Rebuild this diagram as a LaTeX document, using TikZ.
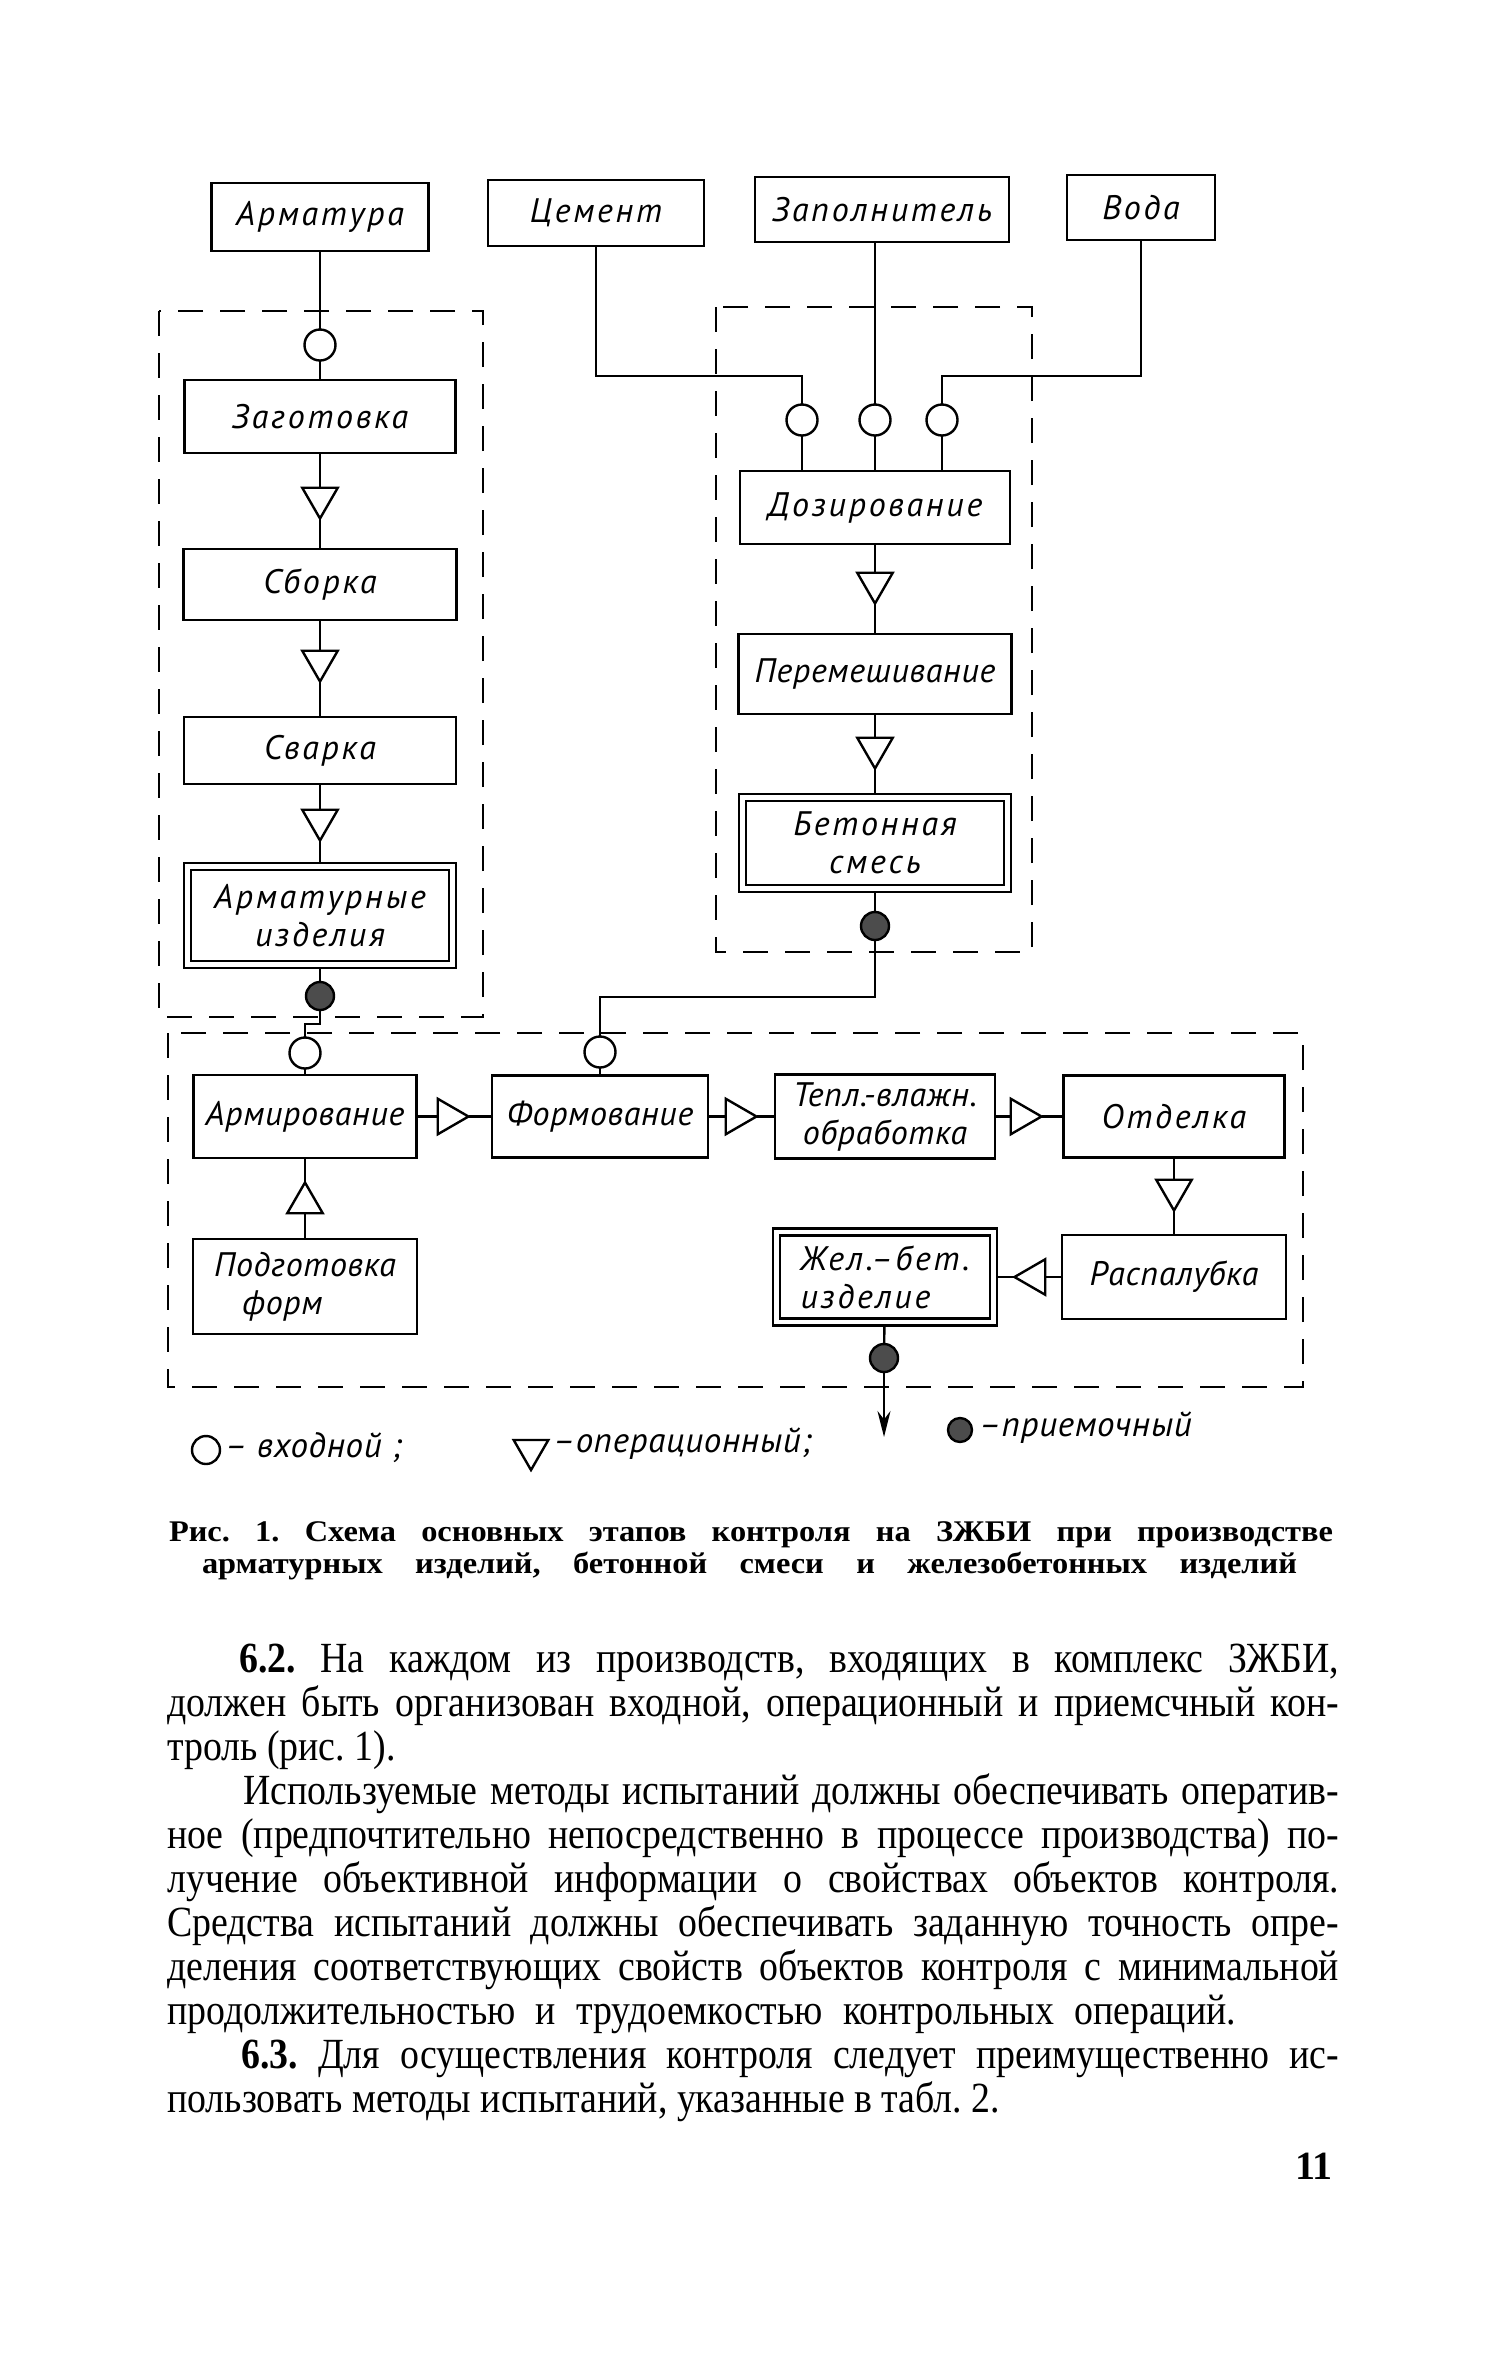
\documentclass[tikz,border=0pt]{standalone}
\usepackage{fontspec}
\setmainfont{Liberation Serif}
\newfontfamily\bodyfont{Liberation Serif}[FakeStretch=0.88]
\newfontfamily\capfont{Liberation Serif}[FakeStretch=1.08]
\newfontfamily\gostfont{PT Sans}[LetterSpace=8]
\newfontfamily\gostnarrow{PT Sans}[LetterSpace=2]
\usetikzlibrary{shapes.geometric,arrows.meta}
\newcommand{\jline}[2]{\hbox to #1pt{#2}}
\frenchspacing
\tikzset{
  box/.style={draw, rectangle, inner sep=0pt, outer sep=0pt, align=center,
    font=\gostfont\itshape\fontsize{34}{38}\selectfont},
  nbox/.style={box, font=\gostnarrow\itshape\fontsize{34}{38}\selectfont},
  dbox/.style={box, double, double distance=4.6pt, outer sep=4.7pt},
  wh/.style 2 args={minimum width=#1pt, minimum height=#2pt},
  incirc/.style={draw, circle, minimum size=31pt, inner sep=0pt, outer sep=0pt, fill=white},
  acc/.style={draw, circle, minimum size=28pt, inner sep=0pt, outer sep=0pt, fill=black!70},
  tri/.style={draw, regular polygon, regular polygon sides=3, minimum size=41pt,
    inner sep=0pt, outer sep=0pt, fill=white, shape border rotate=#1},
  frame/.style={dash pattern=on 25pt off 17pt, line width=2.4pt},
  legtext/.style={anchor=west, inner sep=0pt, font=\gostnarrow\itshape\fontsize{35}{38}\selectfont},
  bodyline/.style={anchor=base west, inner sep=0pt, font=\bodyfont\fontsize{43}{44}\selectfont},
  capline/.style={anchor=base, inner sep=0pt, font=\capfont\bfseries\fontsize{30}{32}\selectfont},
}
\begin{document}
\begin{tikzpicture}[x=1pt,y=-1pt,line width=2.4pt]
\fill[white] (0,0) rectangle (1499,2362);
\useasboundingbox (0,0) rectangle (1499,2362);

% dashed frames
\draw[frame] (159,311) rectangle (483,1017);
\draw[frame] (716,307) rectangle (1032,952);
\draw[frame] (168,1033) rectangle (1303,1387);

% top inputs
\node[box, wh={217}{68}] (arm) at (320,217) {Арматура};
\node[box, wh={216}{66}] (cem) at (596,213) {Цемент};
\node[box, wh={254}{65}] (zap) at (882,209.5) {Заполнитель};
\node[box, wh={148}{65}] (voda) at (1141,207.5) {Вода};

% left column
\node[incirc] (inArm) at (320,345) {};
\node[box, wh={271}{73}] (zag) at (320,416.5) {Заготовка};
\node[tri=180] (t1) at (320,498) {};
\node[box, wh={273}{71}] (sbor) at (320,584.5) {Сборка};
\node[tri=180] (t2) at (320,661) {};
\node[box, wh={272}{67}] (svar) at (320,750.5) {Сварка};
\node[tri=180] (t3) at (320,820) {};
\node[dbox, wh={265}{98}] (armiz) at (320,915.5) {Арматурные\\изделия};
\node[acc] (acc1) at (320,996) {};

% right column
\node[incirc] (inC) at (802,420) {};
\node[incirc] (inZ) at (875,420) {};
\node[incirc] (inV) at (942,420) {};
\node[box, wh={270}{73}] (doz) at (875,507.5) {Дозирование};
\node[tri=180] (t4) at (875,583) {};
\node[nbox, wh={273}{80}] (per) at (875,674) {Перемешивание};
\node[tri=180] (t5) at (875,748) {};
\node[dbox, wh={265}{91}] (bet) at (875,843) {Бетонная\\смесь};
\node[acc] (acc2) at (875,926) {};

% lower block
\node[incirc] (inArmir) at (305,1053) {};
\node[incirc] (inForm) at (600,1052) {};
\node[nbox, wh={223}{83}] (armir) at (305,1116.5) {Армирование};
\node[tri=270] (t6) at (448,1116.5) {};
\node[nbox, wh={216}{82}] (form) at (600,1116.5) {Формование};
\node[tri=270] (t7) at (736,1116.5) {};
\node[nbox, wh={220}{84}] (tepl) at (885,1116.5) {Тепл.-влажн.\\обработка};
\node[tri=270] (t8) at (1021,1116.5) {};
\node[box, wh={221}{82}] (otd) at (1174,1116.5) {Отделка};
\node[tri=180] (t9) at (1174,1190) {};
\node[nbox, wh={224}{84}] (rasp) at (1174,1277) {Распалубка};
\node[tri=90] (t10) at (1035,1277) {};
\node[dbox, wh={217}{90}, align=left] (zhel) at (885,1277) {Жел.–бет.\\изделие};
\node[tri=0] (t11) at (305,1203) {};
\node[nbox, wh={224}{95}, align=left] (podg) at (305,1286.5) {Подготовка\\\hspace*{28pt}форм};
\node[acc] (acc3) at (884,1358) {};
\coordinate (arrEnd) at (884,1437);

% helper corners
\coordinate (cC) at (802,376);
\coordinate (cV) at (942,376);
\coordinate (cF) at (600,997);
\coordinate (cA) at (305,1024);

% connectors: left column
\draw (arm) -- (inArm);
\draw (inArm) -- (zag);
\draw (zag) -- (t1);
\draw (t1) -- (sbor);
\draw (sbor) -- (t2);
\draw (t2) -- (svar);
\draw (svar) -- (t3);
\draw (t3) -- (armiz);
\draw (armiz) -- (acc1);
\draw (acc1) |- (cA) -- (inArmir);

% connectors: right column
\draw (cem) |- (cC) -- (inC);
\draw (zap.south -| inZ) -- (inZ);
\draw (voda) |- (cV) -- (inV);
\draw (inC) -- (inC |- doz.north);
\draw (inZ) -- (doz);
\draw (inV) -- (inV |- doz.north);
\draw (doz) -- (t4);
\draw (t4) -- (per);
\draw (per) -- (t5);
\draw (t5) -- (bet);
\draw (bet) -- (acc2);
\draw (acc2) |- (cF) -- (inForm);

% connectors: lower block
\draw (inArmir) -- (armir);
\draw (inForm) -- (form);
\draw (armir) -- (t6);
\draw (t6) -- (form);
\draw (form) -- (t7);
\draw (t7) -- (tepl);
\draw (tepl) -- (t8);
\draw (t8) -- (otd);
\draw (otd) -- (t9);
\draw (t9) -- (rasp);
\draw (rasp) -- (t10);
\draw (t10) -- (zhel);
\draw (podg) -- (t11);
\draw (t11) -- (armir);
\draw (zhel) -- (acc3);
\draw[-{Stealth[length=26pt,width=13pt]}] (acc3) -- (arrEnd);

% legend
\node[incirc, minimum size=28pt] (lgIn) at (206,1450) {};
\node[legtext] (lgInT) at (224,1448) {– входной ;};
\node[tri=180, minimum size=40pt] (lgOp) at (531,1450) {};
\node[legtext] (lgOpT) at (552,1444) {–операционный;};
\node[acc, minimum size=24pt] (lgAc) at (960,1430) {};
\node[legtext] (lgAcT) at (978,1428) {–приемочный};

% caption
\node[capline] (cap1) at (751,1541) {\jline{1164}{Рис. 1. Схема основных этапов контроля на ЗЖБИ при производстве}};
\node[capline] (cap2) at (749.5,1573) {\jline{1095}{арматурных изделий, бетонной смеси и железобетонных изделий}};

% body text
\node[bodyline] (b1) at (238,1672) {\jline{1100}{\textbf{6.2.} На каждом из производств, входящих в комплекс ЗЖБИ,}};
\node[bodyline] (b2) at (166,1716) {\jline{1172}{должен быть организован входной, операционный и приемсчный кон-}};
\node[bodyline] (b3) at (166,1760) {троль (рис. 1).};
\node[bodyline] (b4) at (242,1804) {\jline{1096}{Используемые методы испытаний должны обеспечивать оператив-}};
\node[bodyline] (b5) at (166,1848) {\jline{1172}{ное (предпочтительно непосредственно в процессе производства) по-}};
\node[bodyline] (b6) at (166,1892) {\jline{1172}{лучение объективной информации о свойствах объектов контроля.}};
\node[bodyline] (b7) at (166,1936) {\jline{1172}{Средства испытаний должны обеспечивать заданную точность опре-}};
\node[bodyline] (b8) at (166,1980) {\jline{1172}{деления соответствующих свойств объектов контроля с минимальной}};
\node[bodyline] (b9) at (166,2024) {\jline{1069}{продолжительностью и трудоемкостью контрольных операций.}};
\node[bodyline] (b10) at (240,2068) {\jline{1098}{\textbf{6.3.} Для осуществления контроля следует преимущественно ис-}};
\node[bodyline] (b11) at (166,2112) {пользовать методы испытаний, указанные в табл. 2.};

% page number
\node[inner sep=0pt, font=\bfseries\fontsize{40}{44}\selectfont] (pg) at (1314,2166) {11};
\end{tikzpicture}
\end{document}
